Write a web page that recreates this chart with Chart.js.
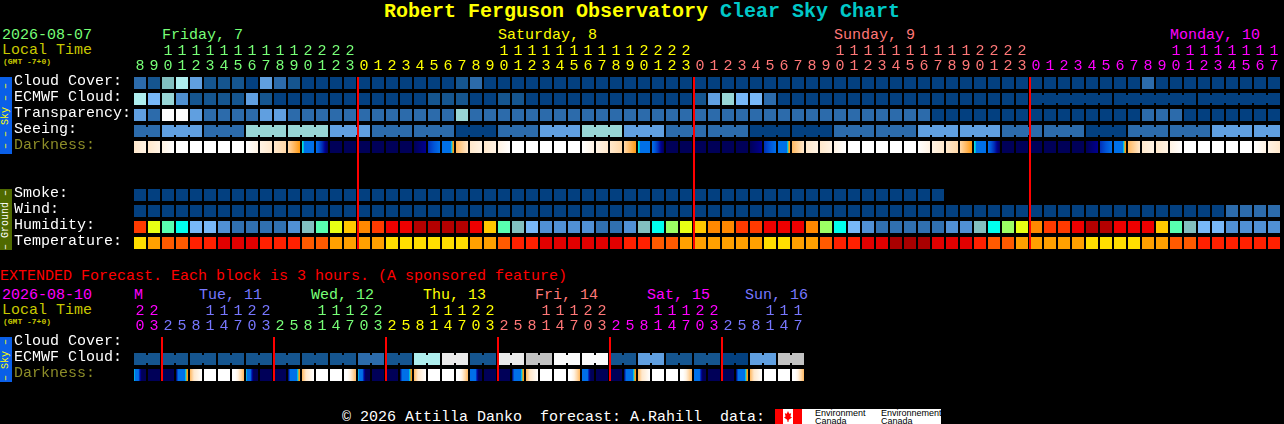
<!DOCTYPE html>
<html><head><meta charset="utf-8">
<script src="https://cdn.jsdelivr.net/npm/chart.js@4"></script>
<style>
html,body{margin:0;padding:0;background:#000;width:1284px;height:424px;overflow:hidden}
#wrap{position:relative;width:1284px;height:424px;background:#000}
canvas{position:absolute;left:0}
.t{position:absolute;font:15px/15px "Liberation Mono",monospace;white-space:pre;color:#fff}
.small{font:bold 8px/8px "Liberation Mono",monospace;color:#c8c800}
.strip{position:absolute;left:0;width:12px;overflow:hidden}
.strip span{position:absolute;left:50%;top:50%;transform:translate(-50%,-50%) rotate(-90deg);font:10px/10px "Liberation Mono",monospace;white-space:pre}
</style></head><body><div id="wrap">
<div class="t" style="left:384px;top:1px;font:bold 20px/22px 'Liberation Mono',monospace;color:#ffff00">Robert Ferguson Observatory <span style="color:#00c8c8">Clear Sky Chart</span></div>
<div class="t" style="left:2px;top:28px;color:#77ff77">2026-08-07</div>
<div class="t" style="left:2px;top:43px;color:#c8c800">Local Time</div>
<div class="t small" style="left:3px;top:58px">(GMT -7+0)</div>
<div class="t" style="left:162px;top:28px;color:#77ff77">Friday, 7</div>
<div class="t" style="left:498px;top:28px;color:#ffff00">Saturday, 8</div>
<div class="t" style="left:834px;top:28px;color:#ff7777">Sunday, 9</div>
<div class="t" style="left:1170px;top:28px;color:#ff00ff">Monday, 10</div>
<div class="strip" style="top:77px;height:77px;background:#0a5fe8"><span style="color:#ffff00">– – Sky – –</span></div>
<div class="strip" style="top:189px;height:61px;background:#4f6a00"><span style="color:#fff">– Ground –</span></div>
<div class="t" style="left:0;top:269px;color:#ff0000">EXTENDED Forecast. Each block is 3 hours. (A sponsored feature)</div>
<div class="t" style="left:2px;top:288px;color:#ff00ff">2026-08-10</div>
<div class="t" style="left:2px;top:303px;color:#c8c800">Local Time</div>
<div class="t small" style="left:3px;top:318px">(GMT -7+0)</div>
<div class="t" style="left:134px;top:288px;color:#ff00ff">M</div>
<div class="t" style="left:199px;top:288px;color:#7777ff">Tue, 11</div>
<div class="t" style="left:311px;top:288px;color:#77ff77">Wed, 12</div>
<div class="t" style="left:423px;top:288px;color:#ffff00">Thu, 13</div>
<div class="t" style="left:535px;top:288px;color:#ff7777">Fri, 14</div>
<div class="t" style="left:647px;top:288px;color:#ff00ff">Sat, 15</div>
<div class="t" style="left:745px;top:288px;color:#7777ff">Sun, 16</div>
<div class="strip" style="top:337px;height:45px;background:#0a5fe8"><span style="color:#ffff00">– Sky –</span></div>
<div class="t" style="left:342px;top:410px">© 2026 Attilla Danko  forecast: A.Rahill  data:</div>
<div style="position:absolute;left:775px;top:409px;width:166px;height:15px;background:#fff;overflow:hidden">
 <div style="position:absolute;left:0;top:0;width:8px;height:15px;background:#f00"></div>
 <div style="position:absolute;left:18px;top:0;width:9px;height:15px;background:#f00"></div>
 <div style="position:absolute;left:9px;top:2px;width:8px;height:11px;background:#f00;clip-path:polygon(50% 0,65% 25%,90% 20%,80% 50%,100% 60%,60% 80%,55% 100%,45% 100%,40% 80%,0 60%,20% 50%,10% 20%,35% 25%)"></div>
 <div class="t" style="left:40px;top:0;font:9px/8px 'Liberation Sans',sans-serif;color:#000">Environment<br>Canada</div>
 <div class="t" style="left:106px;top:0;font:9px/8px 'Liberation Sans',sans-serif;color:#000">Environnement<br>Canada</div>
</div>
<canvas id="main"></canvas>
<canvas id="ext"></canvas>
</div>
<script>
// ---- data ----
const hours=[8,9,10,11,12,13,14,15,16,17,18,19,20,21,22,23,0,1,2,3,4,5,6,7,8,9,10,11,12,13,14,15,16,17,18,19,20,21,22,23,0,1,2,3,4,5,6,7,8,9,10,11,12,13,14,15,16,17,18,19,20,21,22,23,0,1,2,3,4,5,6,7,8,9,10,11,12,13,14,15,16,17];
const rowNames=["Cloud Cover:","ECMWF Cloud:","Transparency:","Seeing:","Darkness:","","","Smoke:","Wind:","Humidity:","Temperature:"];
const cloud=[2,1,11,7,4,1,1,1,0,4,2,1,0,0,0,0,0,0,0,0,0,0,0,1,2,0,0,0,0,0,0,0,0,0,0,0,0,0,0,0,0,0,0,0,0,0,0,0,0,0,0,0,0,0,0,0,0,0,0,0,0,0,0,0,0,0,0,0,0,0,0,0,2,0,0,0,0,0,0,0,0,0];
const ecmwf=[7,5,6,3,1,1,1,1,4,1,0,0,0,0,0,0,0,0,0,0,0,1,1,1,0,0,1,1,0,0,0,0,0,0,0,0,0,0,0,0,1,4,6,5,5,2,0,0,0,0,0,0,0,0,0,0,0,0,0,0,0,0,0,0,0,0,0,0,0,0,0,0,0,0,0,0,0,0,0,0,0,0];
const ecmwfBlocks=[1,1,1,1,1,1,1,1,1,1,1,1,1,1,1,1,1,1,1,1,1,1,1,1,1,1,1,1,1,1,1,1,1,1,1,1,1,1,1,1,1,1,1,1,1,1,1,1,1,1,1,1,1,1,1,1,1,1,1,1,1,1,1,1,6,6,6];
const transparency=[4,2,10,10,4,2,2,2,2,4,4,2,2,2,2,2,2,2,2,2,2,2,2,6,2,2,2,2,2,2,2,2,2,2,2,2,2,2,2,2,2,2,2,2,2,2,2,2,2,2,2,2,2,2,2,2,2,0,0,0,0,0,0,0,0,0,0,0,0,0,0,0,2,2,2,0,0,0,0,0,0,0];
const seeing=[2,2,4,4,4,2,2,2,6,6,6,6,6,6,4,4,4,2,2,2,2,2,2,0,0,0,2,2,2,4,4,4,6,6,6,4,4,4,2,2,2,2,2,2,0,0,0,0,0,0,2,2,2,2,2,2,4,4,4,4,4,4,2,2,2,2,2,2,0,0,0,2,2,2,2,2,2,4,4,4,4,4];
const seeingBlocks=[2,3,3,3,3,3,3,3,3,3,3,3,3,3,3,3,3,3,3,3,3,3,3,3,3,3,3,2];
const smoke=[0,0,0,0,0,0,0,0,0,0,0,0,0,0,0,0,0,0,0,0,0,0,0,0,0,0,0,0,0,0,0,0,0,0,0,0,0,0,0,0,0,0,0,0,0,0,0,0,0,0,0,0,0,0,0,0,0,0];
const wind=[0,0,0,0,0,0,0,0,0,0,0,0,0,0,0,0,0,0,0,0,0,0,0,0,0,0,0,0,0,0,0,0,0,0,0,0,0,0,0,0,0,0,0,0,0,0,0,0,0,0,0,0,0,0,0,0,0,0,0,0,0,0,0,0,0,0,0,0,0,0,0,0,0,0,0,0,0,0,2,2,2,2];
const humidity="S Y M C L L B V V V V B T M Y A G S R R D D D D R A M T L B B B B V V B T C I Y A G G S S R R R G I C L B V V V V V B B T C I Y G S S R D D R R R A M T L L B B B B".split(" ");
const temperature="Y A O O E E K K K E E E O O A A A A Y Y Y Y Y Y A A O E E K K K K K K E E O O A A A A A A Y Y A A O E E K K X X X K K K E O O A A A A A Y Y Y Y A A O O E E E E E E".split(" ");
const darkness=["tu","tu","uw","w","w","w","w","w","wu","ut","ts","sro","cceeeeeeeeee","ebqpm","m","m","m","m","m","m","mp","qbe","eeeeeeeeecoo","rt","tu","tu","uw","w","w","w","w","w","wu","ut","ts","sro","cceeeeeeeeee","ebqpm","m","m","m","m","m","m","mp","qbe","eeeeeeeeecoo","rt","tu","tu","uw","w","w","w","w","w","wu","ut","ts","sro","cceeeeeeeeee","ebqpm","m","m","m","m","m","m","mp","qbe","eeeeeeeeecoo","rt","tu","tu","uw","w","w","w","w","w","wu","ut"];
const midnightCols=[16,40,64];
const extHours=[20,23,2,5,8,11,14,17,20,23,2,5,8,11,14,17,20,23,2,5,8,11,14,17,20,23,2,5,8,11,14,17,20,23,2,5,8,11,14,17,20,23,2,5,8,11,14,17];
const extRowNames=["Cloud Cover:","ECMWF Cloud:","Darkness:"];
const extEcmwf=[1,1,1,1,1,1,1,1,1,1,1,1,1,1,1,1,2,2,1,1,7,7,9,9,1,1,9,9,8,8,10,10,10,10,1,1,4,4,1,1,1,1,0,0,4,4,8,8];
const extDarkness=["ceeeeqpmmmmm","m","m","mqeeeeeeecoo","rtuw","w","w","wwusr","ceeeeqpmmmmm","m","m","mqeeeeeeecoo","rtuw","w","w","wwusr","ceeeeqpmmmmm","m","m","mqeeeeeeecoo","rtuw","w","w","wwusr","eeeeeeqpmmmm","m","m","mqeeeeeeecoo","rtuw","w","w","wwusr","eeeeeeqpmmmm","m","m","mqeeeeeeecoo","rtuw","w","w","wwusr","eeeeeeqpmmmm","m","m","mqeeeeeeecoo","rtuw","w","w","wwusr"];
const extBlocks=[2,2,2,2,2,2,2,2,2,2,2,2,2,2,2,2,2,2,2,2,2,2,2,2];
const extMidnightCols=[2,10,18,26,34,42];
// ---- palettes ----
const cloudShades=["#034080","#15558f","#2c6bab","#4f8fcf","#609fe0","#77b7f7","#98d6d6","#aeeeee","#c2c2c2","#eaeaea","#fbfbfb","#82bfbf"];
const humidShades={D:"#b40000",R:"#ee0000",S:"#ff3a00",G:"#ff8800",A:"#ffc800",Y:"#e8ff14",I:"#9cff64",M:"#58ffb0",C:"#00ffee",L:"#78b8f8",B:"#5090d4",V:"#3070b0",T:"#82bfbf"};
const tempShades={Y:"#ffde00",A:"#ffa000",O:"#ff5a00",E:"#ff2000",K:"#e20000",X:"#a80000"};
const duskShades={m:"#000058",p:"#000090",q:"#0030b8",b:"#0055d8",e:"#0070e8",c:"#00e0e0",o:"#ff9a10",r:"#ffb860",s:"#ffd8a8",t:"#ffe8cc",u:"#fff3e4",w:"#ffffff"};
const dayInk=["#77ff77","#ffff00","#ff7777","#ff00ff"];
const extDayInk=["#ff00ff","#7777ff","#77ff77","#ffff00","#ff7777","#ff00ff","#7777ff"];
const CELL_H=0.375,JOIN_H=0.25;
const font={family:'"Liberation Mono",monospace',size:15};
Chart.defaults.font=font;

function cellSet(row,vals,color){
  return {type:'bar',grouped:false,barThickness:12,inflateAmount:0,borderWidth:0,
    data:vals.map((v,i)=>({x:i,y:[row-CELL_H,row+CELL_H]})),
    backgroundColor:vals.map(color)};
}
function joinSet(row,vals,color,blocks){
  const pts=[],cols=[];let start=0;
  blocks.forEach(n=>{for(let k=start;k<start+n-1;k++){pts.push({x:k+.5,y:[row-JOIN_H,row+JOIN_H]});cols.push(color(vals[k]));}start+=n;});
  return {type:'bar',grouped:false,barThickness:2,inflateAmount:0,borderWidth:0,data:pts,backgroundColor:cols};
}
function gradSet(row,cells){
  return {type:'bar',grouped:false,barThickness:12,inflateAmount:0,borderWidth:0,
    data:cells.map((v,i)=>({x:i,y:[row-CELL_H,row+CELL_H]})),
    backgroundColor:c=>{
      const s=cells[c.dataIndex]; if(s===undefined) return '#000';
      if(s.length===1) return duskShades[s];
      const sx=c.chart.scales.x,p=sx?sx.getPixelForValue(c.dataIndex):NaN;
      if(!isFinite(p)) return duskShades[s[0]];
      const g=c.chart.ctx.createLinearGradient(p-6,0,p+6,0);
      [...s].forEach((ch,k)=>g.addColorStop(k/(s.length-1),duskShades[ch]));
      return g;
    }};
}
function lineSet(cols,top,bottom){
  return {type:'bar',grouped:false,barThickness:2,inflateAmount:0,borderWidth:0,
    data:cols.map(c=>({x:c-0.5+1/14,y:[top-CELL_H,bottom+CELL_H]})),backgroundColor:'#ff0000'};
}
const cloudInk=v=>cloudShades[v];
function grid(id,top,axisH,hrs,inkOf,names,datasets,labelOff){
  const cv=document.getElementById(id);cv.style.top=top+'px';
  return new Chart(cv,{type:'bar',data:{datasets},options:{
    responsive:false,animation:false,devicePixelRatio:1,
    layout:{padding:{left:14,right:3,top:0,bottom:0}},
    plugins:{legend:{display:false},tooltip:{enabled:false},title:{display:false}},
    scales:{
      x:{type:'linear',position:'top',offset:false,min:-0.5,max:hrs.length-0.5,
        grid:{display:false},border:{display:false},
        afterBuildTicks:s=>{s.ticks=hrs.map((_,i)=>({value:i}));},
        afterFit:s=>{s.height=axisH;s.paddingLeft=0;s.paddingRight=0;},
        ticks:{autoSkip:false,maxRotation:0,minRotation:0,padding:-7,font:{...font,lineHeight:1},
          callback:(v,i)=>{const h=hrs[i];return h<10?["",String(h)]:[String(Math.floor(h/10)),String(h%10)];},
          color:c=>inkOf(c.index)}},
      y:{type:'linear',reverse:true,min:-0.5,max:names.length-0.5,
        grid:{display:false},border:{display:false},
        afterBuildTicks:s=>{s.ticks=names.map((_,i)=>({value:i}));},
        afterFit:s=>{s.width=119;s.paddingTop=0;s.paddingBottom=0;},
        ticks:{autoSkip:false,crossAlign:'far',padding:0,labelOffset:labelOff,
          callback:(v,i)=>names[i],
          color:c=>names[c.index]==="Darkness:"?"#8c8c28":"#ffffff"}}
    }}});
}
const mainEl=document.getElementById('main');mainEl.width=1284;mainEl.height=251;
const extEl=document.getElementById('ext');extEl.width=134+48*14+2;extEl.height=113;
const idx=i=>i<16?0:i<40?1:i<64?2:3;
grid('main',0,75,hours,i=>dayInk[idx(i)],rowNames,[
  lineSet(midnightCols,0,10),
  cellSet(0,cloud,cloudInk),
  cellSet(1,ecmwf,cloudInk),
  joinSet(1,ecmwf,cloudInk,ecmwfBlocks),
  cellSet(2,transparency,cloudInk),
  cellSet(3,seeing,cloudInk),
  joinSet(3,seeing,cloudInk,seeingBlocks),
  gradSet(4,darkness),
  cellSet(7,smoke,cloudInk),
  cellSet(8,wind,cloudInk),
  cellSet(9,humidity,v=>humidShades[v]),
  cellSet(10,temperature,v=>tempShades[v])
],-2);
const extIdx=i=>i<2?0:Math.floor((i-2)/8)+1;
grid('ext',270,65,extHours,i=>extDayInk[extIdx(i)],extRowNames,[
  lineSet(extMidnightCols,0,2),
  cellSet(1,extEcmwf,cloudInk),
  joinSet(1,extEcmwf,cloudInk,extBlocks),
  gradSet(2,extDarkness)
],-2);
</script></body></html>
